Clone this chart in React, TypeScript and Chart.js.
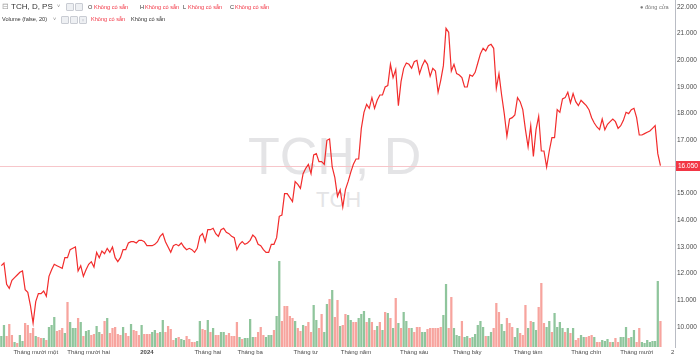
import React, { useEffect, useRef } from "react";
import { Chart, registerables } from "chart.js";

Chart.register(...registerables);

// Daily closing prices (VND), mid-Oct 2023 -> mid-Oct 2024
const closes: number[] = [
  12300, 12400, 11600, 11450, 11750, 11850, 11950, 12050, 12100, 11400,
  11300, 10800, 10150, 10950, 11250, 11250, 11350, 11150, 11900, 12150,
  12350, 12300, 12250, 12200, 12600, 12600, 12900, 12950, 13000, 12100,
  12300, 11900, 12150, 12350, 12450, 12250, 12800, 12600, 12850, 12750,
  12950, 12800, 13000, 12600, 12450, 12600, 12900, 12900, 13150, 13200,
  13200, 13150, 13250, 13250, 13200, 13050, 13050, 13050, 13100, 13200,
  13400, 13500, 13200, 13000, 12800, 13050, 13100, 13050, 13150, 13000,
  12900, 12950, 12900, 12800, 12950, 13400, 13500, 13200, 13650, 13650,
  13700, 13500, 13400, 13650, 13700, 13550, 13500, 13400, 13350, 12900,
  13100, 13200, 13100, 13150, 13250, 13450, 13350, 13100, 13050, 12900,
  12800, 12800, 13100, 13100, 13350, 14150, 14200, 15000, 15000, 14850,
  14700, 15450, 15350, 15200, 15750, 15950, 16100, 15750, 16450, 16500,
  16200, 16200, 16100, 17000, 17050, 16000, 15600, 14900, 15150, 14500,
  15150, 15450, 15800, 16100, 16300, 16300, 17450, 18050, 18350, 18200,
  18600, 18200, 18500, 18700, 18700, 19000, 19050, 19850, 19350, 19650,
  18300, 19200, 19700, 19900, 19850, 19700, 19950, 20000, 19500, 19800,
  20000, 19850, 19400, 19700, 19600, 18800, 19250, 19800, 21200, 21050,
  19600, 19850, 19500, 19450, 19350, 19000, 19000, 19450, 19400, 19550,
  19900, 20250, 20450, 20350, 20550, 20600, 20450, 18950, 19500, 18700,
  18000, 17150, 17800, 17850, 17950, 18600, 18450, 18150, 17400, 16750,
  17550, 16400, 17400, 17900, 16600, 16600, 16000, 16600, 17100, 17100,
  18150, 18050, 18550, 18600, 18800, 18400, 18750, 18450, 18300, 18500,
  18400, 18300, 18150, 17850, 17650, 17500, 17400, 17800, 17400, 17600,
  17700, 17800, 17700, 17450, 17550, 17750, 18050, 18000, 18150, 18200,
  17850, 17200, 17200, 17250, 17300, 17350, 17450, 17550, 16500, 16050,
];

// Daily volume (thousand shares)
const volumes: number[] = [
  550, 1100, 550, 1150, 600, 250, 200, 600, 300, 1200,
  1100, 700, 950, 550, 500, 450, 450, 350, 1000, 1100,
  1500, 800, 850, 950, 700, 2250, 1250, 950, 950, 1450,
  1250, 550, 800, 850, 600, 650, 1050, 750, 650, 1300,
  1450, 700, 950, 1000, 650, 600, 1000, 700, 550, 1150,
  850, 800, 600, 1100, 650, 650, 650, 750, 850, 700,
  750, 1350, 750, 1050, 900, 350, 450, 500, 400, 350,
  550, 400, 250, 250, 300, 1300, 900, 850, 1350, 750,
  950, 600, 600, 750, 750, 600, 700, 550, 550, 1250,
  500, 400, 450, 450, 1400, 500, 500, 750, 1000, 600,
  500, 600, 600, 850, 1550, 4300, 1300, 2050, 2050, 1550,
  1450, 1300, 950, 800, 1100, 1050, 1250, 750, 2100, 1350,
  950, 1650, 750, 2150, 2400, 2850, 1500, 2350, 1050, 1100,
  1650, 1600, 1350, 1250, 1250, 1450, 1650, 1800, 1250, 1450,
  1250, 850, 1050, 1250, 850, 1750, 1700, 1450, 950, 2450,
  1200, 950, 1750, 1300, 950, 950, 750, 1000, 1000, 750,
  750, 900, 950, 950, 950, 950, 1000, 1600, 3150, 950,
  2500, 950, 600, 550, 1300, 500, 550, 450, 500, 650,
  1100, 1300, 1000, 550, 550, 750, 950, 2200, 1750, 1150,
  800, 1450, 1200, 1000, 500, 950, 700, 600, 2100, 950,
  1300, 1250, 850, 2000, 3200, 1200, 1000, 1300, 750, 1700,
  1000, 1250, 950, 750, 950, 700, 950, 350, 450, 600,
  500, 500, 550, 600, 500, 250, 250, 350, 300, 400,
  250, 250, 450, 250, 500, 500, 1000, 450, 500, 850,
  250, 950, 250, 200, 350, 250, 300, 300, 3300, 1300,
];

// Volume bar direction per day: g = up, r = down
const volDir: string =
  "ggrrrgrggr" + "rrrgrrgrgg" + "grrrgrgggr" + "grggrrggrr" + "grrrrrgrrg" +
  "rrrgrrrggr" + "ggrrrrgrgg" + "rrrrggrrgr" + "grrggrrrrr" + "grggggrrrr" +
  "gggrggrrrr" + "rgrrgrrrgg" + "rrggrgrrgr" + "rggrrgggrg" + "rrgrgrgrgr" +
  "grggrgrrrg" + "grrrrrrggr" + "rgggrggrgg" + "gggrggrrrg" + "grrrggrrrg" +
  "rggrrrggrg" + "gggrgrgrrg" + "grrrgrrggg" + "rgrrgggrgg" + "rrgggggggr";

// Month tick labels (trading-day index of first session shown)
const tickIndex: number[] = [13, 33, 55, 78, 94, 115, 134, 156, 176, 199, 221, 240];
const tickText: string[] = [
  "Tháng mười một", "Tháng mười hai", "2024", "Tháng hai", "Tháng ba", "Tháng tư",
  "Tháng năm", "Tháng sáu", "Tháng bảy", "Tháng tám", "Tháng chín", "Tháng mười",
];
// Price axis tick values
const priceTicks: number[] = [10000, 11000, 12000, 13000, 14000, 15000, 16000, 17000, 18000, 19000, 20000, 21000, 22000];
const emptySlots = 5;
const priceMin = 9250;
const priceMax = 22262;
const volumeMax = 17350;

const fmt = (n: number) => {
  const v = Math.round(n);
  return `${Math.floor(v / 1000)}.${String(v % 1000).padStart(3, "0")}`;
};

const FONT = '"Liberation Sans", Arial, sans-serif';
const RED_TXT = "#f23645";

export default function App() {
  const ref = useRef<HTMLCanvasElement>(null);

  useEffect(() => {
    const labels = Array.from({ length: closes.length + emptySlots }, (_, i) => String(i));
    const last = closes[closes.length - 1];

    const lastPricePlugin = {
      id: "lastPrice",
      beforeDatasetsDraw(chart: any) {
        const { ctx, chartArea } = chart;
        const y = Math.round(chart.scales.y.getPixelForValue(last)) + 0.5;
        ctx.save();
        ctx.strokeStyle = "#f7c6ca";
        ctx.lineWidth = 1;
        ctx.beginPath();
        ctx.moveTo(chartArea.left, y);
        ctx.lineTo(chartArea.right, y);
        ctx.stroke();
        ctx.restore();
      },
      afterDraw(chart: any) {
        const { ctx, chartArea } = chart;
        const y = chart.scales.y.getPixelForValue(last);
        ctx.save();
        ctx.fillStyle = "#f23645";
        ctx.fillRect(chartArea.right + 1, Math.round(y) - 5, 700 - chartArea.right - 1, 10);
        ctx.fillStyle = "#ffffff";
        ctx.font = `6.5px ${FONT}`;
        ctx.textBaseline = "middle";
        ctx.textAlign = "left";
        ctx.fillText(fmt(last), chartArea.right + 3, Math.round(y) + 0.5);
        ctx.restore();
      },
    };

    const chart = new Chart(ref.current as HTMLCanvasElement, {
      type: "bar",
      data: {
        labels,
        datasets: [
          {
            type: "line",
            data: closes,
            yAxisID: "y",
            borderColor: "#f22c2c",
            borderWidth: 1.2,
            pointRadius: 0,
            tension: 0,
            order: 0,
          } as any,
          {
            type: "bar",
            data: volumes,
            yAxisID: "yv",
            backgroundColor: volumes.map((_, i) => (volDir[i] === "g" ? "#8fc59c" : "#f7a49e")),
            barPercentage: 0.85,
            categoryPercentage: 1,
            order: 1,
          } as any,
        ],
      },
      options: {
        responsive: false,
        animation: false,
        layout: { padding: 0 },
        plugins: { legend: { display: false }, tooltip: { enabled: false } },
        scales: {
          x: {
            type: "category",
            offset: true,
            grid: { display: false, drawTicks: false },
            border: { display: false },
            ticks: {
              autoSkip: false,
              maxRotation: 0,
              minRotation: 0,
              padding: 2,
              color: "#4a4a4a",
              font: (c: any) => ({
                family: FONT,
                size: 6,
                weight: c.tick && c.tick.label === "2024" ? "bold" : "normal",
              }),
              callback: (_v: any, index: number) => {
                const k = tickIndex.indexOf(index);
                return k >= 0 ? tickText[k] : "";
              },
            },
            afterFit: (s: any) => {
              s.height = 11;
              s.paddingLeft = 0;
              s.paddingRight = 0;
            },
          },
          y: {
            type: "linear",
            position: "right",
            min: priceMin,
            max: priceMax,
            grid: { display: false, drawTicks: false },
            border: { display: true, color: "#b9bcc4" },
            afterBuildTicks: (s: any) => {
              s.ticks = priceTicks.map((v) => ({ value: v }));
            },
            ticks: {
              padding: 2,
              color: "#4a4a4a",
              font: { family: FONT, size: 6.5 },
              callback: (v: any) => fmt(Number(v)),
            },
            afterFit: (s: any) => {
              s.width = 25;
              s.paddingTop = 0;
              s.paddingBottom = 0;
            },
          },
          yv: {
            type: "linear",
            display: false,
            min: 0,
            max: volumeMax,
          },
        },
      },
      plugins: [lastPricePlugin],
    } as any);

    return () => chart.destroy();
  }, []);

  const abs = (left: number, top: number, extra: React.CSSProperties = {}): React.CSSProperties => ({
    position: "absolute",
    left,
    top,
    whiteSpace: "nowrap",
    lineHeight: 1,
    ...extra,
  });
  const small: React.CSSProperties = { fontSize: 5.6, color: "#333" };
  const red: React.CSSProperties = { fontSize: 5.6, color: RED_TXT };
  const box = (left: number, top: number, cross = false) => (
    <div
      style={abs(left, top, {
        width: 6,
        height: 6,
        border: "1px solid #c9ccd3",
        borderRadius: 1,
        background: "#eef0f3",
        fontSize: 5,
        color: "#c9ccd3",
        textAlign: "center",
        lineHeight: "6px",
      })}
    >
      {cross ? "×" : ""}
    </div>
  );

  return (
    <div
      style={{
        position: "absolute",
        left: 0,
        top: 0,
        width: 700,
        height: 358,
        overflow: "hidden",
        background: "#ffffff",
        fontFamily: FONT,
      }}
    >
      {/* watermark */}
      <div style={abs(248, 130, { fontSize: 52, color: "#e4e4e6" })}>TCH, D</div>
      <div style={abs(316, 189, { fontSize: 22, color: "#e4e4e6" })}>TCH</div>

      <canvas ref={ref} width={700} height={358} style={{ position: "absolute", left: 0, top: 0 }} />

      {/* legend line 1 */}
      <div style={abs(2, 3, { fontSize: 8, color: "#9a9a9a" })}>⊟</div>
      <div style={abs(11, 3, { fontSize: 8, color: "#333" })}>TCH, D, PS</div>
      <div style={abs(57, 4, { fontSize: 5.5, color: "#888" })}>˅</div>
      {box(66, 3)}
      {box(75, 3)}
      <div style={abs(88, 5, small)}>O</div>
      <div style={abs(94, 5, red)}>Không có sẵn</div>
      <div style={abs(140, 5, small)}>H</div>
      <div style={abs(145, 5, red)}>Không có sẵn</div>
      <div style={abs(183, 5, small)}>L</div>
      <div style={abs(188, 5, red)}>Không có sẵn</div>
      <div style={abs(230, 5, small)}>C</div>
      <div style={abs(235, 5, red)}>Không có sẵn</div>

      {/* legend line 2 */}
      <div style={abs(2, 17, small)}>Volume (false, 20)</div>
      <div style={abs(53, 17, { fontSize: 5.5, color: "#888" })}>˅</div>
      {box(61, 16)}
      {box(70, 16)}
      {box(79, 16, true)}
      <div style={abs(91, 17, red)}>Không có sẵn</div>
      <div style={abs(131, 17, small)}>Không có sẵn</div>

      {/* top-right */}
      <div style={abs(640, 5, { fontSize: 5.6, color: "#777" })}>● đóng cửa</div>

      {/* clipped time label at far right */}
      <div style={abs(671, 349, { fontSize: 6, color: "#4a4a4a" })}>2</div>
    </div>
  );
}
